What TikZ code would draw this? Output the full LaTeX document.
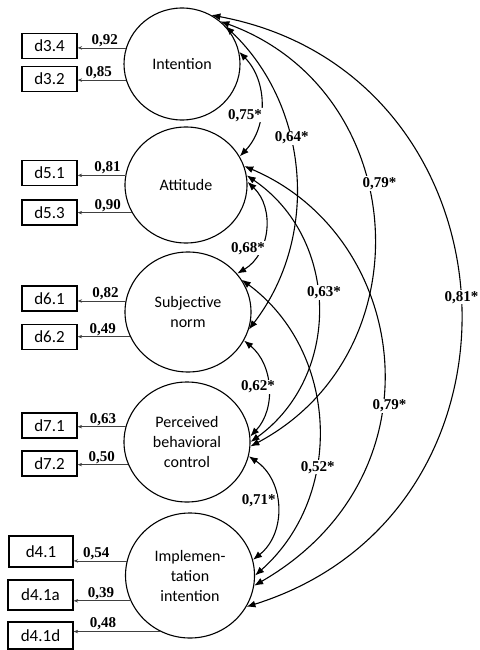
\documentclass[tikz,border=0pt]{standalone}
\usepackage{fontspec}
\setmainfont{Liberation Serif}
\newfontfamily\calib{Carlito}
\newfontfamily\tnr{Liberation Serif}
\usetikzlibrary{arrows.meta,shapes.geometric}
\begin{document}
\begin{tikzpicture}[x=1pt,y=1pt,
  lat/.style={ellipse, draw, line width=1.1pt, inner sep=0pt, align=center, font=\calib\fontsize{16}{20}\selectfont},
  obs/.style={rectangle, draw, line width=1.3pt, minimum width=55pt, minimum height=25pt, inner sep=0pt, font=\calib\fontsize{17}{20}\selectfont},
  load/.style={line width=0.6pt, draw=black!75, -{Stealth[length=4.5pt,width=3.5pt]}},
  lw/.style={font=\tnr\bfseries\fontsize{15}{17}\selectfont, inner sep=1pt, above},
  cov/.style={line width=1.1pt, {Latex[length=9pt,width=7pt]}-{Latex[length=9pt,width=7pt]}},
  cl/.style={font=\tnr\bfseries\fontsize{15}{17}\selectfont, fill=white, inner sep=1pt}
]
\useasboundingbox (0,0) rectangle (479,-650);

% latent variables
\node[lat, minimum width=116pt, minimum height=112pt] (I) at (182,-64) {Intention};
\node[lat, minimum width=122pt, minimum height=116pt] (A) at (186,-185) {Attitude};
\node[lat, minimum width=126pt, minimum height=120pt] (S) at (188,-312) {Subjective\\norm};
\node[lat, minimum width=126pt, minimum height=120pt] (P) at (187,-442) {Perceived\\behavioral\\control};
\node[lat, minimum width=129pt, minimum height=125pt] (M) at (190,-575.5) {Implemen-\\tation\\intention};

% observed variables
\node[obs] (d34) at (49.5,-46) {d3.4};
\node[obs] (d32) at (49.5,-79) {d3.2};
\node[obs] (d51) at (49.5,-173) {d5.1};
\node[obs] (d53) at (49.5,-212.5) {d5.3};
\node[obs] (d61) at (49.5,-298.5) {d6.1};
\node[obs] (d62) at (49.5,-337) {d6.2};
\node[obs] (d71) at (49.5,-425.5) {d7.1};
\node[obs] (d72) at (49.5,-463.5) {d7.2};
\node[obs, minimum width=64pt, minimum height=31pt] (d41) at (41,-551.5) {d4.1};
\node[obs, minimum width=65pt, minimum height=30pt] (d41a) at (40.5,-595) {d4.1a};
\node[obs, minimum width=65pt, minimum height=27pt] (d41d) at (40.5,-635.5) {d4.1d};

% loadings
\draw[load] (I.164) -- node[lw, xshift=3pt] {0,92} (I.164 -| d34.east);
\draw[load] (I.196) -- node[lw, xshift=-3pt] {0,85} (I.196 -| d32.east);
\draw[load] (A.171.5) -- node[lw, xshift=6pt] {0,81} (A.171.5 -| d51.east);
\draw[load] (A.207.7) -- node[lw, xshift=3pt] {0,90} (A.207.7 -| d53.east);
\draw[load] (S.170.9) -- node[lw, xshift=4pt] {0,82} (S.170.9 -| d61.east);
\draw[load] (S.203.6) -- node[lw, xshift=-1pt] {0,49} (S.203.6 -| d62.east);
\draw[load] (P.166.2) -- node[lw, xshift=1.5pt] {0,63} (P.166.2 -| d71.east);
\draw[load] (P.201.6) -- node[lw, xshift=-1pt] {0,50} (P.201.6 -| d72.east);
\draw[load] (M.167.9) -- node[lw, xshift=-4pt] {0,54} (M.167.9 -| d41.east);
\draw[load] (M.203.4) -- node[lw, xshift=-1pt] {0,39} (M.203.4 -| d41a.east);
\draw[load] (M.242) -- node[lw, xshift=-14pt] {0,48} (M.242 -| d41d.east);

% correlations
\draw[cov] (I.59) to[bend left=76, looseness=1.37] node[cl, pos=0.5, xshift=2pt] {0,81*} (M.-29);
\draw[cov] (I.48) to[bend left=66, looseness=1.21] node[cl, pos=0.42, xshift=13pt] {0,79*} (P.-4);
\draw[cov] (I.41) to[bend left=42, looseness=0.98] node[cl, pos=0.39, xshift=2pt] {0,64*} (S.-16);
\draw[cov] (I.12) to[bend left=44, looseness=1.0] node[cl, pos=0.6, xshift=-15pt] {0,75*} (A.28);
\draw[cov] (A.3) to[bend left=53, looseness=1.06] node[cl, pos=0.68, xshift=-12pt] {0,68*} (S.38);
\draw[cov] (A.9) to[bend left=55, looseness=1.08] node[cl, pos=0.45, xshift=7pt] {0,63*} (P.0);
\draw[cov] (A.18) .. controls +(-23:180) and +(30:220) .. node[cl, pos=0.59, xshift=8pt] {0,79*} (M.-9);
\draw[cov] (S.31) to[bend left=51, looseness=1.04] node[cl, pos=0.63, xshift=2pt] {0,52*} (M.0);
\draw[cov] (S.-27) to[bend left=47, looseness=1.01] node[cl, pos=0.5, xshift=-10pt] {0,62*} (P.5);
\draw[cov] (P.-13) to[bend left=54, looseness=1.07] node[cl, pos=0.45, xshift=-18pt] {0,71*} (M.14);
\end{tikzpicture}
\end{document}
